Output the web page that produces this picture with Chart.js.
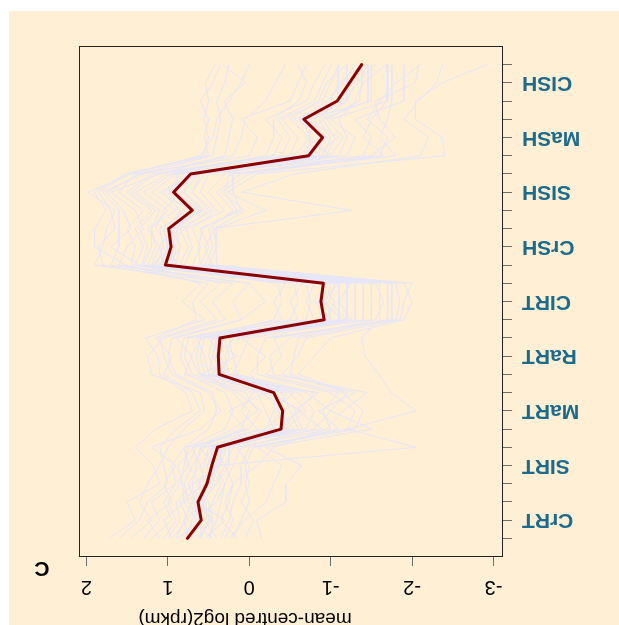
<!DOCTYPE html>
<html>
<head>
<meta charset="utf-8">
<script src="https://cdn.jsdelivr.net/npm/chart.js@4"></script>
<style>
  html, body { margin: 0; padding: 0; background: #ffffff; }
  #wrap { width: 619px; height: 625px; transform: rotate(180deg); }
  canvas { display: block; }
</style>
</head>
<body>
<div id="wrap"><canvas id="chart" width="619" height="625"></canvas></div>
<script>
// tissues, three samples each; the label sits on the middle sample
const categories = ['CrRT', 'SIRT', 'MaRT', 'RaRT', 'CIRT', 'CrSH', 'SISH', 'MaSH', 'CISH'];
const valueTicks = [-3, -2, -1, 0, 1, 2];
const axisTitle = 'mean-centred log2(rpkm)';
const panelLabel = 'C';

// cluster mean (red line)
const meanProfile = [0.76, 0.59, 0.63, 0.52, 0.46, 0.39, -0.39, -0.41, -0.30, 0.37, 0.38, 0.36, -0.92, -0.88, -0.91, 1.03, 0.96, 0.99, 0.70, 0.93, 0.72, -0.73, -0.90, -0.67, -1.08, -1.23, -1.38];

// individual genes (lavender lines)
const gene01 = [1.72, 1.40, 1.50, 1.10, 1.18, 1.40, 1.15, 0.70, 0.78, 1.10, 1.12, 1.28, 0.55, 0.82, 0.60, 1.52, 1.90, 1.90, 1.76, 1.90, 1.52, 0.56, 0.50, 0.56, 0.50, 0.54, 0.42];
const gene02 = [1.20, 0.95, 1.05, 0.90, 0.75, 0.65, 0.20, -0.10, 0.05, 0.80, 0.70, 0.90, 0.10, -0.20, 0.00, 1.60, 1.50, 1.30, 1.40, 1.70, 1.10, 0.30, 0.25, 0.20, 0.31, 0.05, 0.32];
const gene03 = [0.90, 0.80, 0.70, 0.60, 0.55, 0.50, -0.60, -0.50, -0.40, 0.50, 0.45, 0.40, -1.00, -0.95, -1.00, 1.20, 1.10, 1.25, 0.90, 1.20, 0.90, -0.90, -1.00, -0.85, -1.10, -1.25, -1.40];
const gene04 = [0.60, 0.50, 0.55, 0.45, 0.40, 0.30, -0.40, -0.60, -0.30, 0.30, 0.40, 0.35, -1.20, -1.20, -1.20, 0.90, 0.85, 0.95, 0.60, 0.90, 0.65, -0.80, -1.10, -0.70, -1.50, -1.50, -1.50];
const gene05 = [0.50, 0.40, 0.35, 0.30, 0.20, 0.10, -0.80, -1.00, -0.70, 0.20, 0.10, 0.00, -1.40, -1.40, -1.40, 0.70, 0.60, 0.70, 0.40, 0.60, 0.50, -1.20, -1.30, -1.00, -1.70, -1.70, -1.70];
const gene06 = [-0.15, -0.09, -0.45, -0.45, -0.64, -0.20, -1.50, -1.00, -1.20, -0.60, -0.80, -1.00, -1.90, -2.00, -1.90, 0.40, 0.41, 0.41, -0.20, 0.27, -0.10, -2.40, -2.37, -2.04, -2.04, -2.37, -2.92];
const gene07 = [0.80, 0.70, 0.60, 0.50, 0.40, -2.05, -1.20, -2.05, -1.74, -1.59, -1.42, -1.38, -1.60, -1.60, -1.60, 0.90, 1.00, 0.80, 0.50, 0.70, 0.60, -1.50, -1.79, -1.60, -1.55, -2.04, -2.08];
const gene08 = [1.00, 0.85, 0.90, 0.70, 0.65, 0.60, 0.10, 0.00, 0.20, 0.60, 0.65, 0.60, -0.80, -0.70, -0.80, 1.30, 1.20, 1.20, 1.00, 1.30, 0.95, -0.50, -0.60, -0.40, -0.90, -1.00, -1.10];
const gene09 = [0.30, 0.20, 0.30, 0.20, 0.30, 0.20, -0.20, -0.30, -0.32, 0.00, -0.20, 0.10, -0.90, -0.90, -0.90, 0.80, 0.70, 0.78, 0.30, 0.50, 0.30, -0.70, -0.75, -0.65, -1.00, -1.10, -1.38];
const gene10 = [0.70, 0.60, 0.75, 0.80, 0.70, 0.55, -0.30, -0.20, -0.10, 0.40, 0.50, 0.45, -1.10, -1.10, -1.10, 1.10, 1.00, 1.05, 0.80, 1.00, 0.85, -0.95, -1.05, -0.90, -1.46, -1.46, -1.46];
const gene11 = [0.40, 0.55, 0.45, 0.35, 0.50, 0.45, -0.70, -0.80, -0.60, 0.25, 0.30, 0.20, -1.30, -1.30, -1.30, 0.95, 0.90, 1.00, 0.55, 0.80, 0.70, -1.10, -1.20, -1.10, -1.30, -1.40, -1.69];
const gene12 = [0.95, 0.75, 0.85, 0.55, 0.60, 0.45, -0.10, 0.10, -0.05, 0.70, 0.80, 0.75, -0.60, -0.50, -0.65, 1.40, 1.30, 1.40, 1.20, 1.50, 1.20, -0.30, -0.40, -0.20, -0.70, -0.80, -0.93];
const gene13 = [0.20, 0.10, 0.00, 0.05, 0.00, 0.15, -1.00, -0.90, -1.10, -0.20, -0.40, -0.30, -1.75, -1.75, -1.75, 0.60, 0.50, 0.60, 0.10, 0.20, 0.20, -1.80, -1.60, -1.70, -1.75, -1.75, -1.75];
const gene14 = [1.30, 1.10, 1.20, 0.90, 0.95, 0.80, 0.50, 0.40, 0.45, 0.90, 1.00, 0.95, 0.10, 0.20, 0.00, 1.70, 1.60, 1.60, 1.60, 1.80, 1.30, 0.20, 0.10, 0.05, -0.20, -0.32, -0.44];
const gene15 = [0.65, 0.45, 0.50, 0.65, 0.35, 0.35, -0.45, -0.70, -0.50, 0.35, 0.25, 0.30, -1.50, -1.50, -1.50, 1.00, 0.85, 0.90, 0.70, 1.10, 0.60, -0.60, -0.85, -0.75, -1.20, -1.20, -1.20];
const gene16 = [0.85, 0.65, 0.80, 0.40, 0.25, 0.25, -0.55, -0.35, -0.45, 0.45, 0.35, 0.50, -1.00, -0.80, -0.95, 1.15, 1.05, 1.10, 0.75, 0.95, 0.80, -0.85, -0.90, -0.80, -1.09, -1.09, -1.09];
const gene17 = [0.55, 0.30, 0.65, 0.75, 0.60, 0.70, 0.00, -0.15, 0.15, 0.55, 0.60, 0.55, -0.30, -0.40, -0.35, 1.25, 1.15, 1.20, 1.10, 1.40, 1.00, -0.20, -0.30, -0.30, -0.60, -0.70, -0.60];
const gene18 = [0.45, 0.70, 0.40, 0.30, 0.45, 0.60, -0.90, -0.60, -0.80, 0.15, 0.20, 0.25, -1.25, -1.10, -1.25, 0.85, 0.75, 0.85, 0.45, 0.70, 0.55, -1.00, -1.15, -0.95, -1.35, -1.38, -1.38];
const gene19 = [1.05, 0.90, 1.00, 0.85, 0.80, 0.75, 0.30, 0.20, 0.30, 0.75, 0.85, 0.80, -0.40, -0.30, -0.45, 1.45, 1.40, 1.50, 1.30, 1.60, 1.40, 0.00, -0.10, 0.10, -0.50, -0.60, -0.70];
const gene20 = [0.35, 0.25, 0.20, 0.10, 0.10, 0.00, -1.20, -1.30, -1.00, -0.10, -0.10, -0.20, -1.80, -1.85, -1.80, 0.55, 0.45, 0.50, 0.20, 0.40, 0.10, -1.40, -1.50, -1.30, -1.90, -1.90, -1.90];
const gene21 = [1.10, 1.25, 0.95, 1.05, 0.90, 1.20, 0.60, 0.35, 0.50, 0.95, 1.05, 1.10, 0.40, 0.60, 0.35, 1.35, 1.70, 1.45, 1.55, 1.75, 1.35, 0.45, 0.40, 0.35, 0.40, 0.30, 0.25];
const gene22 = [0.25, 0.05, -0.20, -0.30, -0.40, -0.10, -1.10, -0.85, -1.30, -0.40, -0.60, -0.70, -1.85, -1.90, -2.00, 0.50, 0.40, 0.45, -1.26, 0.10, -0.56, -2.10, -2.20, -1.90, -2.08, -2.30, -2.37];
const gene23 = [0.75, 0.80, 0.55, 0.60, 0.75, 0.80, -0.20, -0.45, -0.15, 0.50, 0.55, 0.65, -0.95, -1.05, -0.85, 1.05, 1.10, 0.95, 0.85, 1.05, 0.75, -0.75, -0.95, -0.60, -0.95, -1.15, -1.30];
const gene24 = [0.58, 0.62, 0.70, 0.48, 0.52, 0.42, -0.35, -0.45, -0.25, 0.38, 0.42, 0.30, -0.88, -0.85, -0.92, 0.98, 0.92, 1.02, 0.68, 0.90, 0.75, -0.70, -0.88, -0.62, -1.05, -1.25, -1.35];
const gene25 = [1.45, 1.20, 1.35, 1.25, 1.10, 1.00, 0.80, 0.55, 0.60, 1.20, 1.25, 1.05, 0.30, 0.45, 0.20, 1.90, 1.80, 1.75, 1.65, 1.98, 1.45, 0.60, 0.45, 0.40, 0.25, 0.10, 0.00];
const gene26 = [0.15, 0.35, 0.25, 0.20, -0.10, -0.30, -0.95, -1.15, -1.45, -0.30, -0.25, -0.50, -1.55, -1.65, -1.55, 0.45, 0.55, 0.42, 0.05, 0.35, 0.00, -1.60, -1.70, -1.45, -1.60, -1.80, -2.10];
const gene27 = [0.88, 0.58, 0.68, 0.70, 0.35, 0.28, -0.65, -0.55, -0.85, 0.60, 0.15, 0.45, -1.20, -0.98, -1.05, 1.20, 0.95, 1.15, 1.05, 0.85, 0.90, -1.00, -0.70, -0.90, -1.20, -1.30, -1.55];
const gene28 = [1.60, 1.35, 1.25, 1.00, 1.05, 1.10, 0.90, 0.60, 0.70, 1.05, 0.95, 1.15, 0.65, 0.70, 0.50, 1.80, 1.85, 1.65, 1.70, 1.85, 1.50, 0.50, 0.55, 0.50, 0.60, 0.45, 0.35];
const gene29 = [0.48, 0.45, 0.62, 0.55, 0.42, 0.30, -0.50, -0.30, -0.55, 0.32, 0.45, 0.38, -1.15, -0.90, -1.10, 1.08, 1.00, 0.88, 0.62, 0.98, 0.68, -0.65, -0.95, -0.55, -1.15, -1.35, -1.45];
const gene30 = [0.62, 0.48, 0.58, 0.40, 0.30, 0.40, -0.25, -0.65, -0.20, 0.28, 0.35, 0.42, -0.70, -0.75, -0.70, 0.88, 1.02, 0.92, 0.58, 0.82, 0.62, -0.55, -0.75, -0.50, -0.85, -0.95, -1.20];
const gene31 = [0.95, 1.05, 0.80, 0.82, 0.88, 0.68, 0.05, 0.25, -0.20, 0.62, 0.72, 0.58, -0.50, -0.60, -0.55, 1.32, 1.25, 1.35, 1.15, 1.45, 1.15, -0.40, -0.50, -0.35, -0.80, -0.90, -1.01];
const gene32 = [0.05, -0.05, 0.10, 0.00, 0.05, -0.05, -1.30, -1.40, -1.15, -0.50, -0.55, -0.60, -1.70, -1.70, -1.70, 0.60, 0.62, 0.58, 0.15, 0.30, 0.25, -1.65, -1.40, -1.50, -1.69, -1.69, -1.69];

const genes = [gene01, gene02, gene03, gene04, gene05, gene06, gene07, gene08, gene09, gene10,
               gene11, gene12, gene13, gene14, gene15, gene16, gene17, gene18, gene19, gene20,
               gene21, gene22, gene23, gene24, gene25, gene26, gene27, gene28, gene29, gene30,
               gene31, gene32];

const fontFamily = "'Liberation Sans', Arial, Helvetica, sans-serif";
const paper = '#ffefd5';
const labelColor = '#1b6b8c';
const tickColor = '#6e6e6e';
const sampleIndex = meanProfile.map((_, i) => i);

const toPoints = profile => profile.map((v, i) => ({ x: v, y: i }));

const datasets = genes.map(g => ({
    data: toPoints(g),
    borderColor: '#e6e6fa',
    borderWidth: 1,
    pointRadius: 0,
    tension: 0,
    order: 2
}));
datasets.push({
    data: toPoints(meanProfile),
    borderColor: '#8b0000',
    borderWidth: 3,
    borderJoinStyle: 'round',
    borderCapStyle: 'round',
    pointRadius: 0,
    tension: 0,
    order: 1
});

// paper background, plot box, axis title and panel letter
const decorations = {
    id: 'decorations',
    beforeDraw(chart) {
        const ctx = chart.ctx;
        ctx.save();
        ctx.fillStyle = '#ffffff';
        ctx.fillRect(0, 0, chart.width, chart.height);
        ctx.fillStyle = paper;
        ctx.fillRect(0, 0, 610, 614);
        ctx.restore();
    },
    afterDraw(chart) {
        const { ctx, chartArea: a } = chart;
        ctx.save();
        ctx.strokeStyle = '#222222';
        ctx.lineWidth = 1;
        ctx.strokeRect(a.left + 0.5, a.top + 0.5, a.right - a.left - 1, a.bottom - a.top - 1);

        ctx.fillStyle = '#000000';
        ctx.textAlign = 'center';
        ctx.textBaseline = 'alphabetic';
        ctx.font = `19px ${fontFamily}`;
        ctx.fillText(axisTitle, 374, 11.5);

        ctx.textBaseline = 'middle';
        ctx.font = `bold 21px ${fontFamily}`;
        ctx.fillText(panelLabel, 577, 57);
        ctx.restore();
    }
};

new Chart(document.getElementById('chart').getContext('2d'), {
    type: 'line',
    data: { datasets },
    plugins: [decorations],
    options: {
        indexAxis: 'y',
        responsive: false,
        animation: false,
        devicePixelRatio: 1,
        events: [],
        layout: { padding: { left: 0, top: 0, right: 79, bottom: 46 } },
        plugins: { legend: { display: false }, tooltip: { enabled: false } },
        scales: {
            x: {
                type: 'linear',
                position: 'top',
                min: -3.116,
                max: 2.091,
                afterBuildTicks: s => { s.ticks = valueTicks.map(v => ({ value: v })); },
                afterFit: s => { s.height = 68; },
                ticks: {
                    autoSkip: false,
                    padding: 9,
                    color: '#000000',
                    font: { family: fontFamily, size: 20 },
                    callback: v => String(v)
                },
                grid: { drawOnChartArea: false, tickLength: 9, color: tickColor },
                border: { display: false }
            },
            y: {
                type: 'linear',
                position: 'left',
                reverse: true,
                min: -1.02,
                max: 27.02,
                afterBuildTicks: s => { s.ticks = sampleIndex.map(v => ({ value: v })); },
                afterFit: s => { s.width = 116; },
                ticks: {
                    autoSkip: false,
                    padding: 10,
                    color: labelColor,
                    font: { family: fontFamily, size: 21, weight: 'bold' },
                    callback: v => (v % 3 === 1 ? categories[(v - 1) / 3] : '')
                },
                grid: { drawOnChartArea: false, tickLength: 9, color: tickColor },
                border: { display: false }
            }
        }
    }
});
</script>
</body>
</html>
